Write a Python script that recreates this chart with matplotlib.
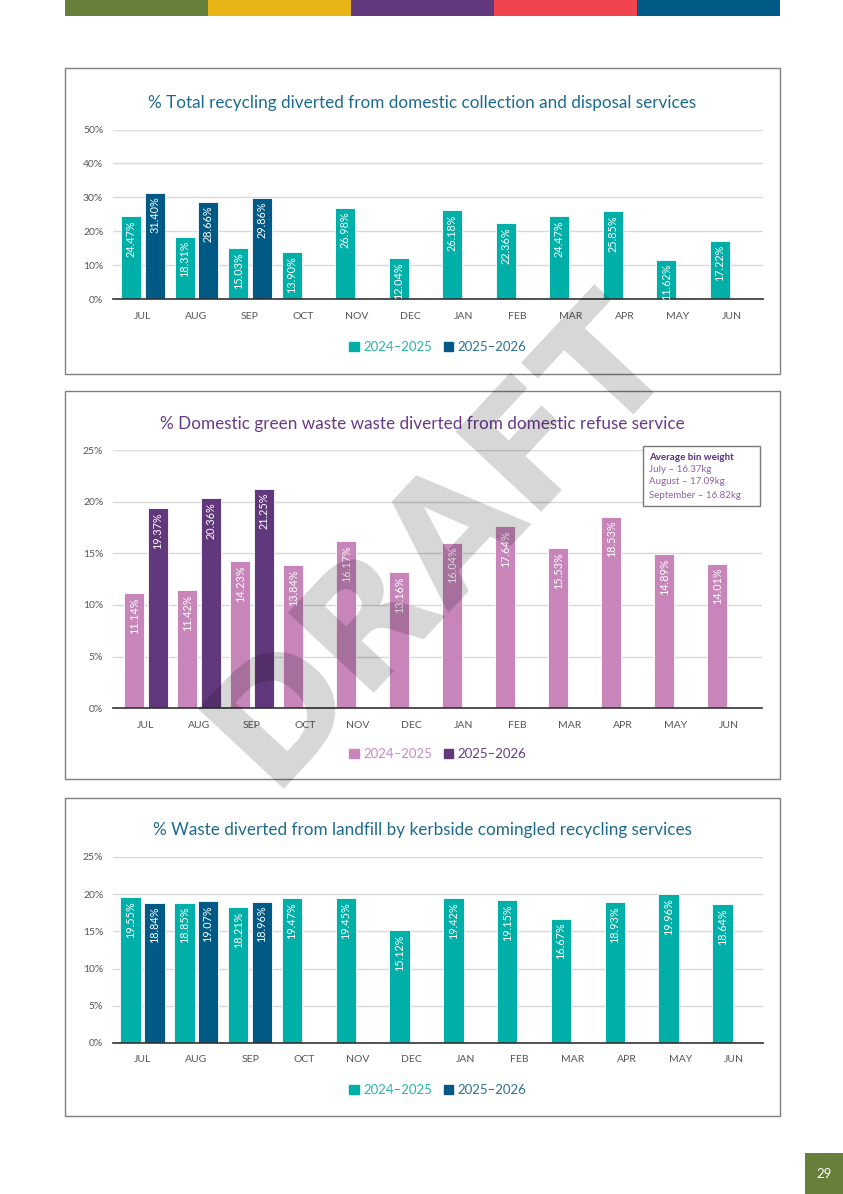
import matplotlib
matplotlib.use("Agg")
import matplotlib.pyplot as plt
from matplotlib.patches import Rectangle, Patch

plt.rcParams['font.family'] = ['Lato', 'DejaVu Sans']

# ---------------- data ----------------
months = ["JUL", "AUG", "SEP", "OCT", "NOV", "DEC", "JAN", "FEB", "MAR", "APR", "MAY", "JUN"]
series_labels = ["2024\u20132025", "2025\u20132026"]

recycling_2425 = [24.47, 18.31, 15.03, 13.90, 26.98, 12.04, 26.18, 22.36, 24.47, 25.85, 11.62, 17.22]
recycling_2526 = [31.40, 28.66, 29.86]

green_2425 = [11.14, 11.42, 14.23, 13.84, 16.17, 13.16, 16.04, 17.64, 15.53, 18.53, 14.89, 14.01]
green_2526 = [19.37, 20.36, 21.25]

comingled_2425 = [19.55, 18.85, 18.21, 19.47, 19.45, 15.12, 19.42, 19.15, 16.67, 18.93, 19.96, 18.64]
comingled_2526 = [18.84, 19.07, 18.96]

titles = [
    "% Total recycling diverted from domestic collection and disposal services",
    "% Domestic green waste waste diverted from domestic refuse service",
    "% Waste diverted from landfill by kerbside comingled recycling services",
]
y_ticks_1 = [0, 10, 20, 30, 40, 50]
y_ticks_2 = [0, 5, 10, 15, 20, 25]
y_ticks_3 = [0, 5, 10, 15, 20, 25]

note_title = "Average bin weight"
note_lines = ["July \u2013 16.37kg", "August \u2013 17.09kg", "September \u2013 16.82kg"]

page_number = "29"
watermark = "DRAFT"

# ---------------- style ----------------
W, H = 843, 1194
TEAL, NAVY = "#00B0A8", "#015A85"
PINK, PURPLE = "#C785BA", "#62387C"
TITLE_BLUE, TITLE_PURPLE = "#1C6B8E", "#673A88"
TICK_COL = "#555555"
GRID_COL = "#D9D9D9"
strip_colors = ["#667F3A", "#E8B416", "#62397D", "#F2444F", "#005A85"]

fig = plt.figure(figsize=(W / 100, H / 100), dpi=100)
fig.patch.set_facecolor("white")


def rect(l, t, r, b):
    return [l / W, 1 - b / H, (r - l) / W, (b - t) / H]


# background overlay (panel frames)
bg = fig.add_axes([0, 0, 1, 1], zorder=-5)
bg.set_xlim(0, W)
bg.set_ylim(H, 0)
bg.axis("off")

# foreground overlay (strip, note, watermark, page number)
fg = fig.add_axes([0, 0, 1, 1], zorder=20)
fg.set_xlim(0, W)
fg.set_ylim(H, 0)
fg.axis("off")
fg.patch.set_alpha(0)

# top colour strip
seg = (780 - 65) / len(strip_colors)
for i, c in enumerate(strip_colors):
    fg.add_patch(Rectangle((65 + i * seg, 0), seg, 16, facecolor=c, edgecolor="none"))

panels = [
    dict(box=(65, 68, 780, 374), ax=(113, 129.5, 763, 299), first=143, step=53.5,
         a=recycling_2425, b=recycling_2526, ca=TEAL, cb=NAVY, ticks=y_ticks_1,
         title=titles[0], tcol=TITLE_BLUE, ty=103, ly=347,
         lcols=["#2AB3AC", "#2B6E95"]),
    dict(box=(65, 391, 780, 779), ax=(113, 450, 762, 708.3), first=146, step=53,
         a=green_2425, b=green_2526, ca=PINK, cb=PURPLE, ticks=y_ticks_2,
         title=titles[1], tcol=TITLE_PURPLE, ty=424, ly=754,
         lcols=["#C98BBE", "#673A88"]),
    dict(box=(65, 798, 780, 1116), ax=(113, 856.75, 763, 1043), first=142.5, step=53.8,
         a=comingled_2425, b=comingled_2526, ca=TEAL, cb=NAVY, ticks=y_ticks_3,
         title=titles[2], tcol=TITLE_BLUE, ty=830, ly=1090,
         lcols=["#2AB3AC", "#2B6E95"]),
]

off, bw = 0.22, 0.38
for p in panels:
    l, t, r, b = p["box"]
    bg.add_patch(Rectangle((l, t), r - l, b - t, facecolor="white", edgecolor="#7F7F7F", lw=1.0))
    bg.text((l + r) / 2, p["ty"], p["title"], ha="center", va="center",
            fontsize=12.3, color=p["tcol"])

    al, at, ar, ab = p["ax"]
    ax = fig.add_axes(rect(al, at, ar, ab))
    ax.patch.set_alpha(0)
    xa = [i - off for i in range(len(months))]
    xb = [i + off for i in range(len(p["b"]))]
    ax.bar(xa, p["a"], width=bw, color=p["ca"], edgecolor="white", lw=0.6, zorder=3)
    ax.bar(xb, p["b"], width=bw, color=p["cb"], edgecolor="white", lw=0.6, zorder=3)
    for xs, vs in ((xa, p["a"]), (xb, p["b"])):
        for x, v in zip(xs, vs):
            ax.annotate(f"{v:.2f}%", xy=(x, v), xytext=(0, -4), textcoords="offset pixels",
                        rotation=90, ha="center", va="top", color="white", fontsize=7.8,
                        zorder=5)
    ax.set_xlim(-(p["first"] - al) / p["step"],
                len(months) - 1 + (ar - (p["first"] + p["step"] * (len(months) - 1))) / p["step"])
    ax.set_ylim(p["ticks"][0], p["ticks"][-1])
    ax.set_yticks(p["ticks"])
    ax.set_yticklabels([f"{v}%" for v in p["ticks"]])
    ax.set_xticks(range(len(months)))
    ax.set_xticklabels(months)
    ax.tick_params(axis="both", length=0, labelsize=7.5, labelcolor=TICK_COL)
    ax.tick_params(axis="x", pad=9)
    ax.tick_params(axis="y", pad=7)
    ax.grid(axis="y", color=GRID_COL, lw=1.0, zorder=0)
    for s in ("top", "left", "right"):
        ax.spines[s].set_visible(False)
    ax.spines["bottom"].set_color("#333333")
    ax.spines["bottom"].set_linewidth(1.2)
    ax.spines["bottom"].set_zorder(4)

    fig.legend(handles=[Patch(color=p["ca"]), Patch(color=p["cb"])], labels=series_labels,
               loc="center", bbox_to_anchor=(438 / W, 1 - p["ly"] / H), ncol=2,
               frameon=False, fontsize=9.5, handlelength=0.7, handleheight=0.7,
               handletextpad=0.35, columnspacing=0.9, labelcolor=p["lcols"])

# note box in panel 2
fg.add_patch(Rectangle((643, 446), 117, 60, facecolor="white", edgecolor="#7A7A7A", lw=1.0))
fg.text(649, 457, note_title, ha="left", va="center", fontsize=7, weight="bold", color="#5B2D82")
for i, line in enumerate(note_lines):
    fg.text(649, 469 + i * 13, line, ha="left", va="center", fontsize=7, color="#8E62A8")

# watermark
fg.text(440, 540, watermark, rotation=47, ha="center", va="center", rotation_mode="anchor",
        fontsize=115, weight="bold", color="black", alpha=0.16, family=["DejaVu Sans"])

# page number
fg.add_patch(Rectangle((805, 1153), 38, 41, facecolor="#667F3A", edgecolor="none"))
fg.text(824, 1174, page_number, ha="center", va="center", fontsize=9.5, color="white")

fig.savefig("out.png", dpi=100)
